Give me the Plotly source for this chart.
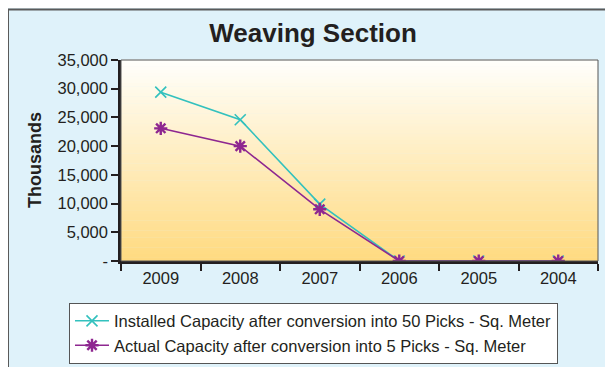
import plotly.graph_objects as go

years = ["2009", "2008", "2007", "2006", "2005", "2004"]
installed = [29400, 24600, 9900, 0, 0, 0]
actual = [23100, 20000, 9000, 0, 0, 0]
y_tickvals = [0, 5000, 10000, 15000, 20000, 25000, 30000, 35000]
y_ticktext = ["-", "5,000", "10,000", "15,000", "20,000", "25,000", "30,000", "35,000"]

name_installed = "Installed Capacity after conversion into 50 Picks - Sq. Meter"
name_actual = "Actual Capacity after conversion into 5 Picks - Sq. Meter"

FONT = "Liberation Sans, Arial, sans-serif"
TEAL = "#33C1BE"
PURPLE = "#8E2790"
TXT = "#231F20"

# page body has an 8px margin, so figure coords = window coords - 8
OFF = 8
L, T, R, B = 121 - OFF, 60 - OFF, 598 - OFF, 263 - OFF
W, H = 613, 367
PW, PH = R - L, B - T


def px_x(wx):
    return (wx - OFF - L) / PW


def px_y(wy):
    return (B - (wy - OFF)) / PH


fig = go.Figure()
fig.add_trace(go.Scatter(
    x=years, y=installed, name=name_installed, mode="lines+markers",
    line=dict(color=TEAL, width=1.6),
    marker=dict(symbol="x-thin", size=11, line=dict(color=TEAL, width=1.6), color=TEAL),
))
fig.add_trace(go.Scatter(
    x=years, y=actual, name=name_actual, mode="lines+markers",
    line=dict(color=PURPLE, width=1.6),
    marker=dict(symbol="asterisk", size=11, line=dict(color=PURPLE, width=2.4), color=PURPLE),
))

# vertical gradient background for the plot area
shapes = []
n = 60
top = (255, 255, 252)
bot = (255, 218, 128)
for i in range(n):
    t = (i + 0.5) / n
    c = tuple(round(top[k] + (bot[k] - top[k]) * t) for k in range(3))
    shapes.append(dict(type="rect", xref="x domain", yref="y domain",
                       x0=0, x1=1, y0=1 - (i + 1) / n, y1=1 - i / n + 0.002,
                       fillcolor="rgb(%d,%d,%d)" % c, line=dict(width=0), layer="below"))
# plot area border (top/right)
shapes.append(dict(type="rect", xref="x domain", yref="y domain", x0=0, x1=1, y0=0, y1=1,
                   line=dict(color="#555555", width=1), layer="above"))
# outer chart border (left/top, at the paper edge)
shapes.append(dict(type="rect", xref="paper", yref="paper",
                   x0=px_x(8), x1=px_x(660),
                   y0=px_y(420), y1=px_y(9),
                   line=dict(color="#5A5A5A", width=2), layer="below"))

fig.update_layout(
    width=W, height=H,
    margin=dict(l=L, r=W - R, t=T, b=H - B),
    paper_bgcolor="#DFF2FA",
    plot_bgcolor="rgba(0,0,0,0)",
    font=dict(family=FONT, size=16, color=TXT),
    title=dict(text="<b>Weaving Section</b>", x=(313 - OFF) / W, xanchor="center",
               y=1 - (33 - OFF) / H, yanchor="middle",
               font=dict(family=FONT, size=26, color=TXT)),
    showlegend=True,
    legend=dict(x=px_x(69), y=px_y(305), xanchor="left", yanchor="top",
                bgcolor="#FFFFFF", bordercolor="#555555", borderwidth=1,
                font=dict(family=FONT, size=16.5, color=TXT),
                itemwidth=34, tracegroupgap=0),
    shapes=shapes,
    annotations=[dict(text="<b>Thousands</b>", xref="paper", yref="paper",
                      x=px_x(35), y=px_y(161), xanchor="center", yanchor="middle",
                      textangle=-90, showarrow=False,
                      font=dict(family=FONT, size=18, color=TXT))],
)
fig.update_xaxes(type="category", range=[-0.5, len(years) - 0.5],
                 tickson="boundaries", ticks="outside", ticklen=7,
                 tickwidth=2, tickcolor=TXT, showline=True, linecolor=TXT,
                 linewidth=2.5, showgrid=False, zeroline=False,
                 tickfont=dict(family=FONT, size=16.5, color=TXT))
fig.update_yaxes(range=[0, 35000], tickvals=y_tickvals, ticktext=y_ticktext,
                 ticks="outside", ticklen=7, tickwidth=2, tickcolor=TXT,
                 showline=True, linecolor=TXT, linewidth=2.5, showgrid=False,
                 zeroline=False, tickfont=dict(family=FONT, size=16.5, color=TXT))

fig.write_html("out.html")
